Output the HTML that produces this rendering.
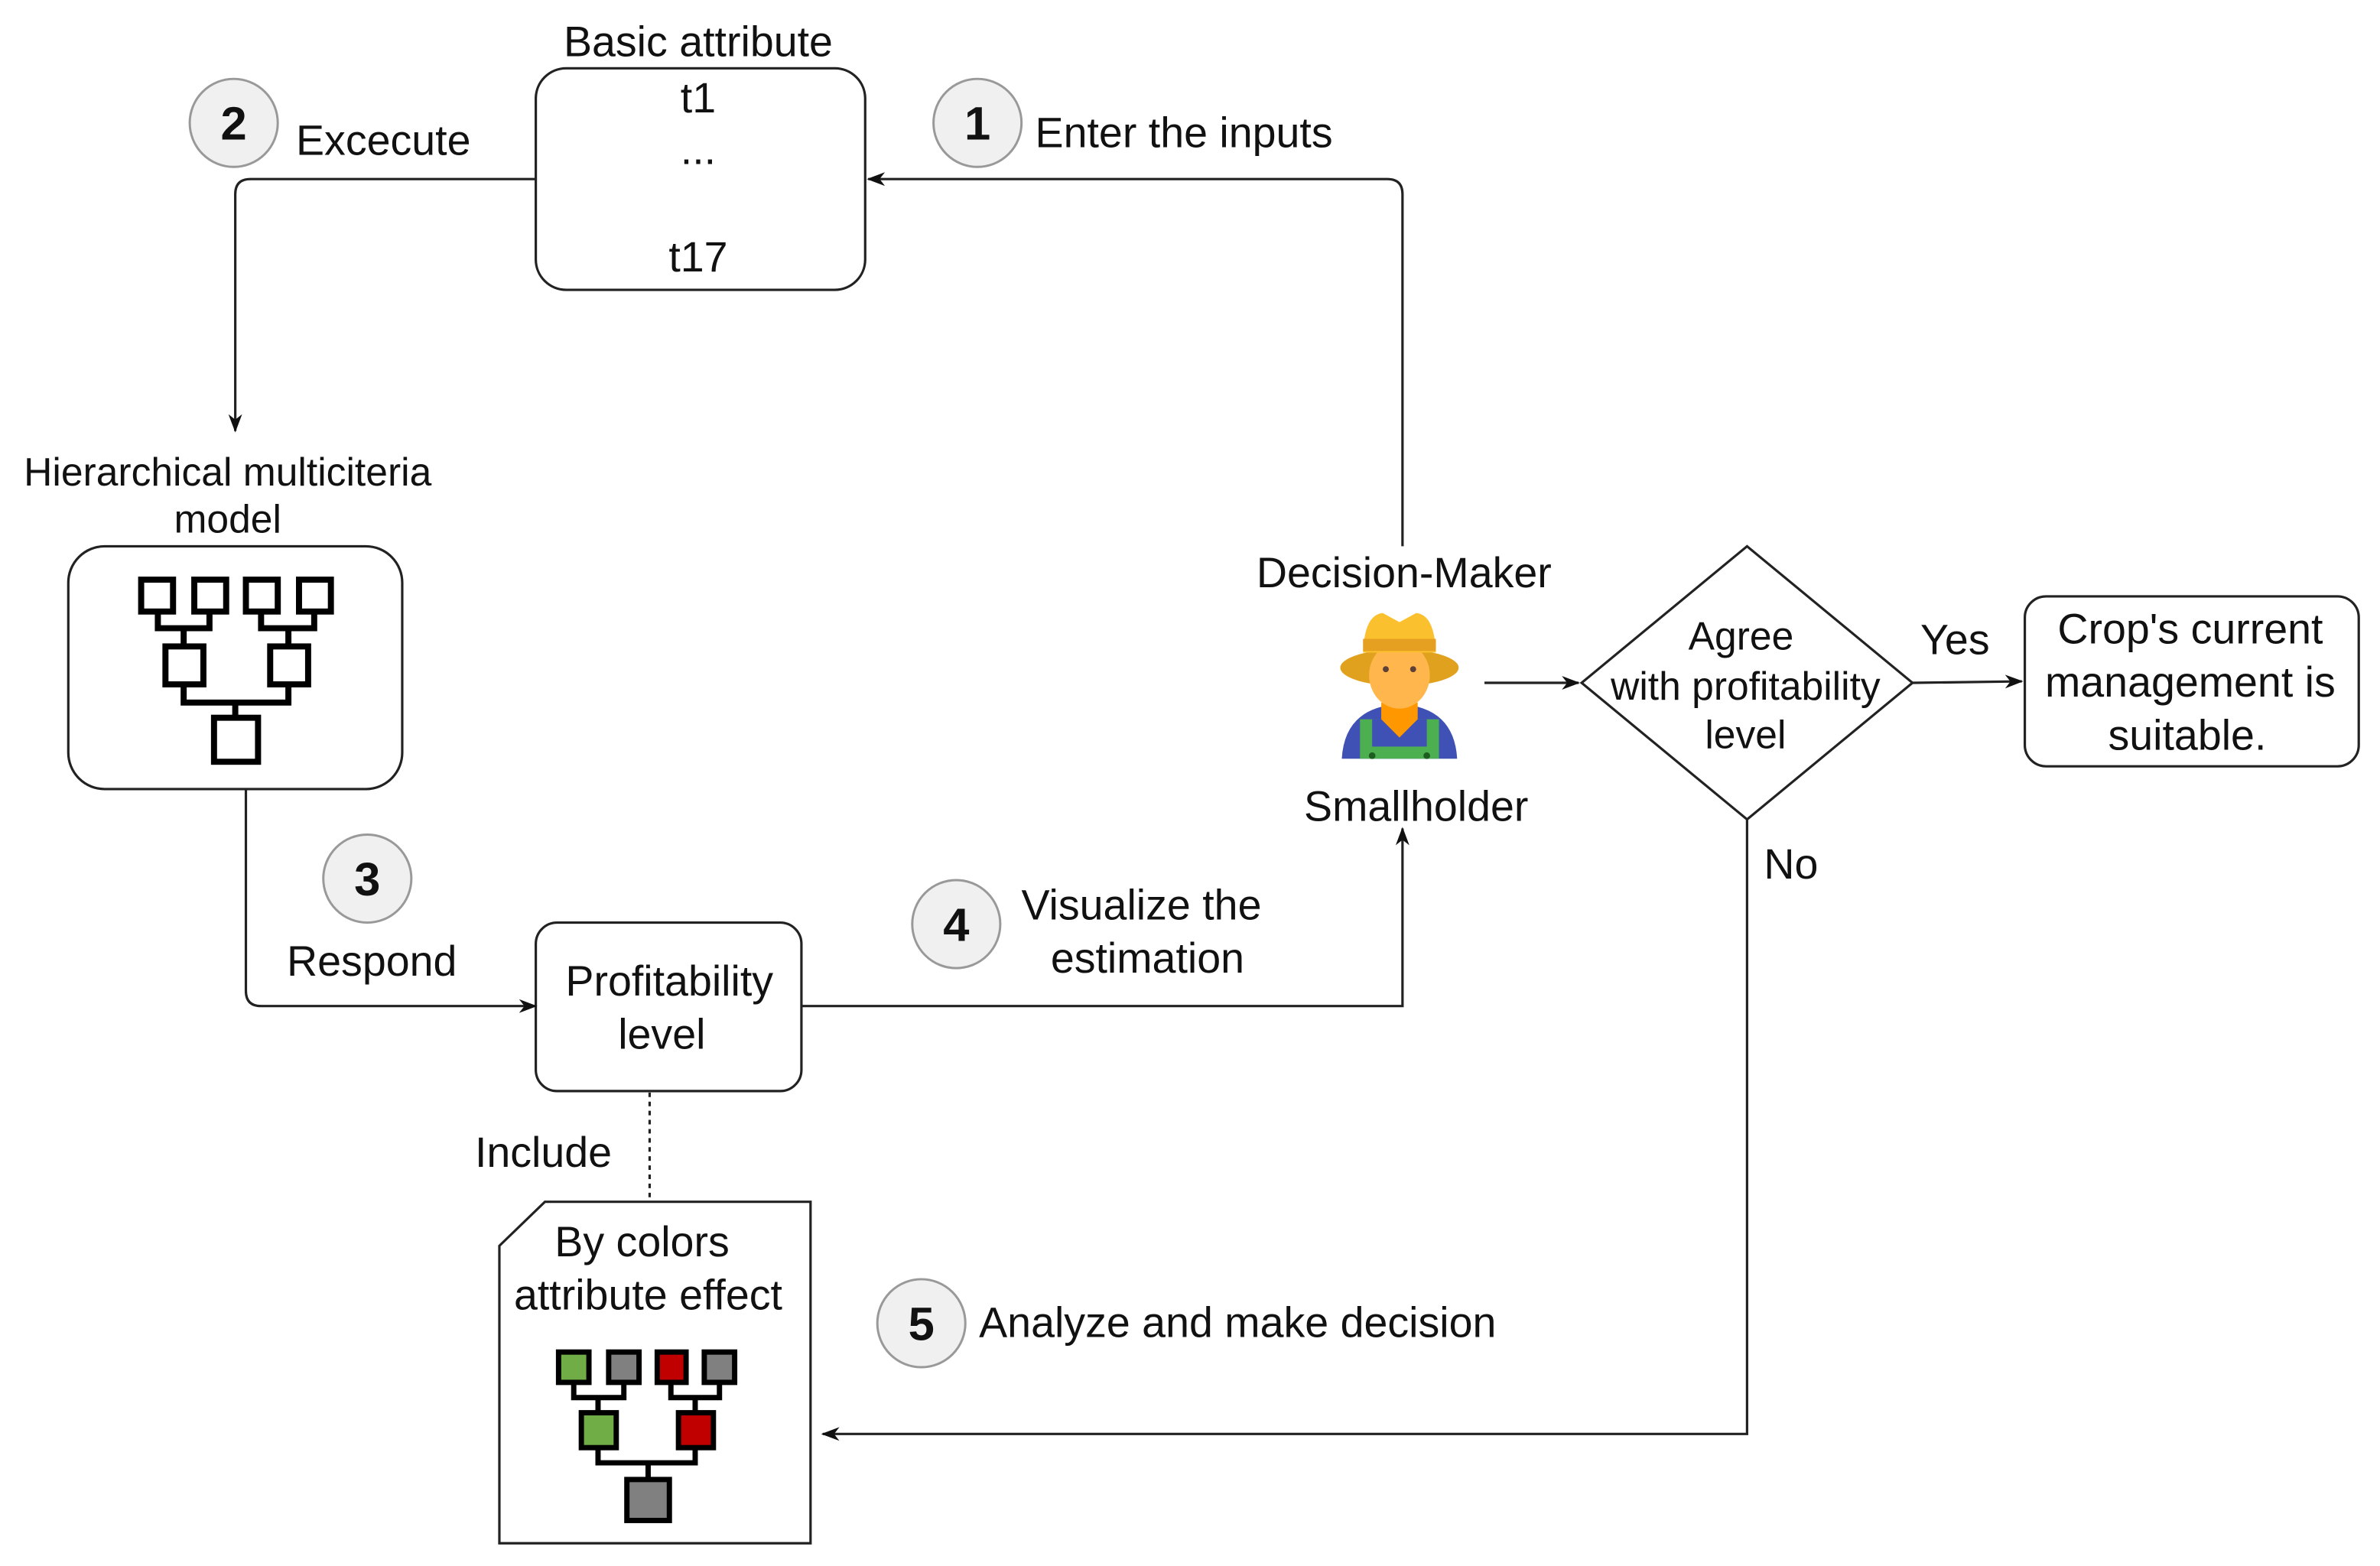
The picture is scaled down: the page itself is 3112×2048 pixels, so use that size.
<!DOCTYPE html>
<html><head><meta charset="utf-8"><style>
html,body{margin:0;padding:0;background:#fff;}
svg{display:block;}
text{font-family:"Liberation Sans",Arial,sans-serif;fill:#111;}
</style></head><body>
<svg width="3112" height="2048" viewBox="0 0 1568 1032" preserveAspectRatio="none" xmlns="http://www.w3.org/2000/svg">
<defs>
<marker id="ar" markerWidth="12" markerHeight="12" refX="11" refY="6" orient="auto" markerUnits="userSpaceOnUse">
<path d="M0,1.5 L12,6 L0,10.5 L3.5,6 Z" fill="#111"/>
</marker>
</defs>
<g fill="none" stroke="#222" stroke-width="1.6">
<rect x="353" y="45" width="217" height="146" rx="20"/>
<rect x="45" y="360" width="220" height="160" rx="24"/>
<rect x="353" y="608" width="175" height="111" rx="14"/>
<rect x="1334" y="393" width="220" height="112" rx="14"/>
<path d="M1151,360 L1260,450 L1151,540 L1042,450 Z"/>
<path d="M359,792 L534,792 L534,1017 L329,1017 L329,821 Z"/>
<path d="M924,360 L924,128 Q924,118 914,118 L572,118" marker-end="url(#ar)"/>
<path d="M353,118 L165,118 Q155,118 155,128 L155,284" marker-end="url(#ar)"/>
<path d="M162,520 L162,653 Q162,663 172,663 L353,663" marker-end="url(#ar)"/>
<path d="M528,663 L924,663 L924,546" marker-end="url(#ar)"/>
<path d="M978,450 L1040,450" marker-end="url(#ar)"/>
<path d="M1260,450 L1332,449" marker-end="url(#ar)"/>
<path d="M1151,540 L1151,945 L542,945" marker-end="url(#ar)"/>
<path d="M428,720 L428,792" stroke-dasharray="3,3"/>
</g>
<g stroke="#999" stroke-width="1.5" fill="#f0f0f0">
<circle cx="154" cy="81" r="29"/>
<circle cx="644" cy="81" r="29"/>
<circle cx="242" cy="579" r="29"/>
<circle cx="630" cy="609" r="29"/>
<circle cx="607" cy="872" r="29"/>
</g>
<g font-size="31" font-weight="bold" text-anchor="middle">
<text x="154" y="92">2</text>
<text x="644" y="92">1</text>
<text x="242" y="590">3</text>
<text x="630" y="620">4</text>
<text x="607" y="883">5</text>
</g>
<g font-size="28">
<text x="460" y="37" text-anchor="middle">Basic attribute</text>
<text x="460" y="74" text-anchor="middle">t1</text>
<text x="460" y="108" text-anchor="middle">...</text>
<text x="460" y="179" text-anchor="middle">t17</text>
<text x="195" y="102">Excecute</text>
<text x="682" y="97">Enter the inputs</text>
<text x="150" y="320" text-anchor="middle" font-size="26">Hierarchical  multiciteria</text>
<text x="150" y="351" text-anchor="middle" font-size="26">model</text>
<text x="245" y="643" text-anchor="middle">Respond</text>
<text x="441" y="656" text-anchor="middle">Profitability</text>
<text x="436" y="691" text-anchor="middle">level</text>
<text x="752" y="606" text-anchor="middle">Visualize the</text>
<text x="756" y="641" text-anchor="middle">estimation</text>
<text x="925" y="387" text-anchor="middle">Decision-Maker</text>
<text x="933" y="541" text-anchor="middle">Smallholder</text>
<text x="1147" y="428" text-anchor="middle" font-size="26">Agree</text>
<text x="1150" y="461" text-anchor="middle" font-size="26">with profitability</text>
<text x="1150" y="493" text-anchor="middle" font-size="26">level</text>
<text x="1288" y="431" text-anchor="middle">Yes</text>
<text x="1180" y="579" text-anchor="middle">No</text>
<text x="1443" y="424" text-anchor="middle">Crop's current</text>
<text x="1443" y="459" text-anchor="middle">management is</text>
<text x="1441" y="494" text-anchor="middle">suitable.</text>
<text x="358" y="769" text-anchor="middle">Include</text>
<text x="423" y="828" text-anchor="middle">By colors</text>
<text x="427" y="863" text-anchor="middle">attribute effect</text>
<text x="645" y="881">Analyze and make decision</text>
</g>
<g fill="none" stroke="#000" stroke-width="4">
<rect x="93" y="382" width="21" height="21"/><rect x="128" y="382" width="21" height="21"/>
<rect x="162" y="382" width="21" height="21"/><rect x="197" y="382" width="21" height="21"/>
<rect x="109" y="426" width="25" height="25"/><rect x="178" y="426" width="25" height="25"/>
<rect x="141" y="473" width="29" height="29"/>
<path d="M104,403 V414 H138 V403 M121,414 V426 M172,403 V414 H207 V403 M190,414 V426 M121,451 V463 H190 V451 M155,463 V473"/>
</g>
<g stroke="#000" stroke-width="3.5">
<rect x="368" y="891" width="20" height="20" fill="#70ad47"/><rect x="401" y="891" width="20" height="20" fill="#808080"/>
<rect x="433" y="891" width="19" height="20" fill="#c00000"/><rect x="464" y="891" width="20" height="20" fill="#808080"/>
<rect x="383" y="931" width="23" height="23" fill="#70ad47"/><rect x="447" y="931" width="23" height="23" fill="#c00000"/>
<rect x="413" y="975" width="28" height="27" fill="#808080"/>
<path fill="none" d="M378,911 V921 H411 V911 M394,921 V931 M442,911 V921 H474 V911 M458,921 V931 M394,954 V964 H458 V954 M427,964 V975"/>
</g>
<!-- farmer -->
<g>
<path d="M884,500 Q886,466 922,464 Q958,466 960,500 Z" fill="#3f51b5"/>
<rect x="896" y="474" width="52" height="26" fill="#4caf50"/>
<rect x="904" y="474" width="36" height="18" fill="#3f51b5"/>
<path d="M910,463 L934,463 L934,474 L922,486 L910,474 Z" fill="#ff9800"/>
<circle cx="904" cy="498" r="2.2" fill="#1b5e20"/><circle cx="940" cy="498" r="2.2" fill="#1b5e20"/>
<ellipse cx="922" cy="440" rx="39" ry="12" fill="#e0a21e"/>
<ellipse cx="922" cy="445" rx="20" ry="22" fill="#ffb74d"/>
<path d="M898,430 Q899,405 911,404 L922,410 L933,404 Q945,405 946,430 Z" fill="#fbc02d"/>
<rect x="898" y="421" width="48" height="8" fill="#e6a021"/>
<circle cx="913" cy="441" r="2" fill="#5d4037"/><circle cx="931" cy="441" r="2" fill="#5d4037"/>
</g>
</svg>
</body></html>
